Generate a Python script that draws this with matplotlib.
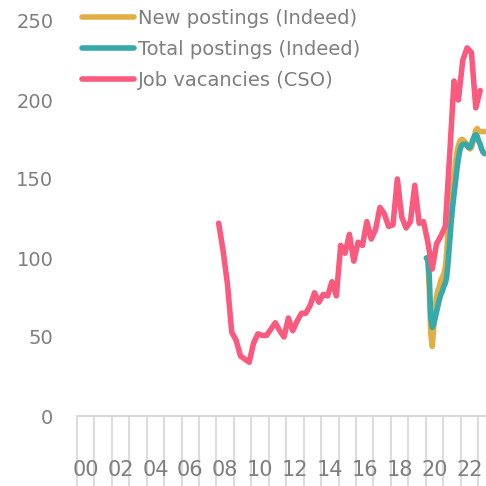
import matplotlib
matplotlib.use("Agg")
import matplotlib.pyplot as plt
import numpy as np

# CSO job vacancies, quarterly from 2008Q1
cso_start_year = 2008
cso_values = [122, 105, 84, 53,
              48, 38, 36, 34,
              46, 52, 51, 51,
              55, 59, 54, 50,
              62, 54, 60, 65,
              65, 70, 78, 72,
              77, 76, 85, 76,
              108, 103, 115, 98,
              110, 108, 123, 112,
              118, 132, 128, 120,
              121, 150, 126, 119,
              123, 146, 122, 123,
              110, 93, 109, 114,
              120, 165, 212, 200,
              225, 233, 230, 195,
              206]

# Indeed postings, monthly from 2020-01
indeed_start_year = 2020
total_postings = [100, 100, 88, 62, 56, 58, 62, 66, 70, 74, 77, 79,
                  82, 84, 88, 98, 110, 122, 132, 140, 148, 156, 163, 168,
                  171, 172, 172, 172, 171, 170, 170, 172, 175, 177, 178, 177,
                  174, 172, 169, 167, 166]
new_postings = [100, 98, 80, 52, 44, 55, 68, 76, 80, 82, 86, 88,
                90, 94, 104, 120, 132, 140, 146, 152, 160, 167, 171, 174,
                175, 175, 174, 173, 172, 170, 169, 170, 173, 177, 181, 182,
                180, 180, 180, 180, 180]

year_labels = ["00", "02", "04", "06", "08", "10", "12", "14", "16", "18", "20", "22"]
label_years = [2000, 2002, 2004, 2006, 2008, 2010, 2012, 2014, 2016, 2018, 2020, 2022]
y_ticks = [0, 50, 100, 150, 200, 250]

c_new = "#E2AF45"
c_total = "#38A9A9"
c_cso = "#F95A7E"
grey_text = "#7f7f7f"
grid_grey = "#d9d9d9"

x_cso = cso_start_year + (np.arange(len(cso_values)) + 0.5) / 4.0
x_ind = indeed_start_year + (np.arange(len(total_postings)) + 0.5) / 12.0

fig = plt.figure(figsize=(4.86, 4.86), dpi=100)
ax = fig.add_axes([77 / 486, 70 / 486, 1 - 77 / 486, (416 - 21) / 486])

lw = 4.0
ax.plot(x_ind, new_postings, color=c_new, lw=lw, solid_capstyle="round",
        solid_joinstyle="round", label="New postings (Indeed)", zorder=3)
ax.plot(x_ind, total_postings, color=c_total, lw=lw, solid_capstyle="round",
        solid_joinstyle="round", label="Total postings (Indeed)", zorder=4)
ax.plot(x_cso, cso_values, color=c_cso, lw=lw, solid_capstyle="round",
        solid_joinstyle="round", label="Job vacancies (CSO)", zorder=5)

ax.set_xlim(2000, 2023.46)
ax.set_ylim(0, 250)

for s in ["top", "right", "left"]:
    ax.spines[s].set_visible(False)
ax.spines["bottom"].set_color(grid_grey)
ax.spines["bottom"].set_linewidth(1.5)

ax.set_yticks(y_ticks)
ax.set_yticklabels([str(v) for v in y_ticks])
ax.tick_params(axis="y", length=0, pad=17, labelsize=14, labelcolor=grey_text)

ax.set_xticks(np.arange(2000, 2024))
ax.set_xticklabels([])
ax.tick_params(axis="x", which="major", length=55, width=1.3, color=grid_grey, direction="out")
ax.set_xticks([y + 0.5 for y in label_years], minor=True)
ax.set_xticklabels(year_labels, minor=True)
ax.tick_params(axis="x", which="minor", length=0, pad=32, labelsize=15, labelcolor=grey_text)

leg = ax.legend(loc="upper left", bbox_to_anchor=(0.012, 1.03), frameon=False,
                fontsize=14, handlelength=2.7, handletextpad=0.2,
                labelspacing=0.62, borderaxespad=0.0, borderpad=0.0)
for t in leg.get_texts():
    t.set_color(grey_text)
for h in leg.get_lines():
    h.set_linewidth(4.0)
    h.set_solid_capstyle("round")

fig.savefig("out.png", dpi=100)
